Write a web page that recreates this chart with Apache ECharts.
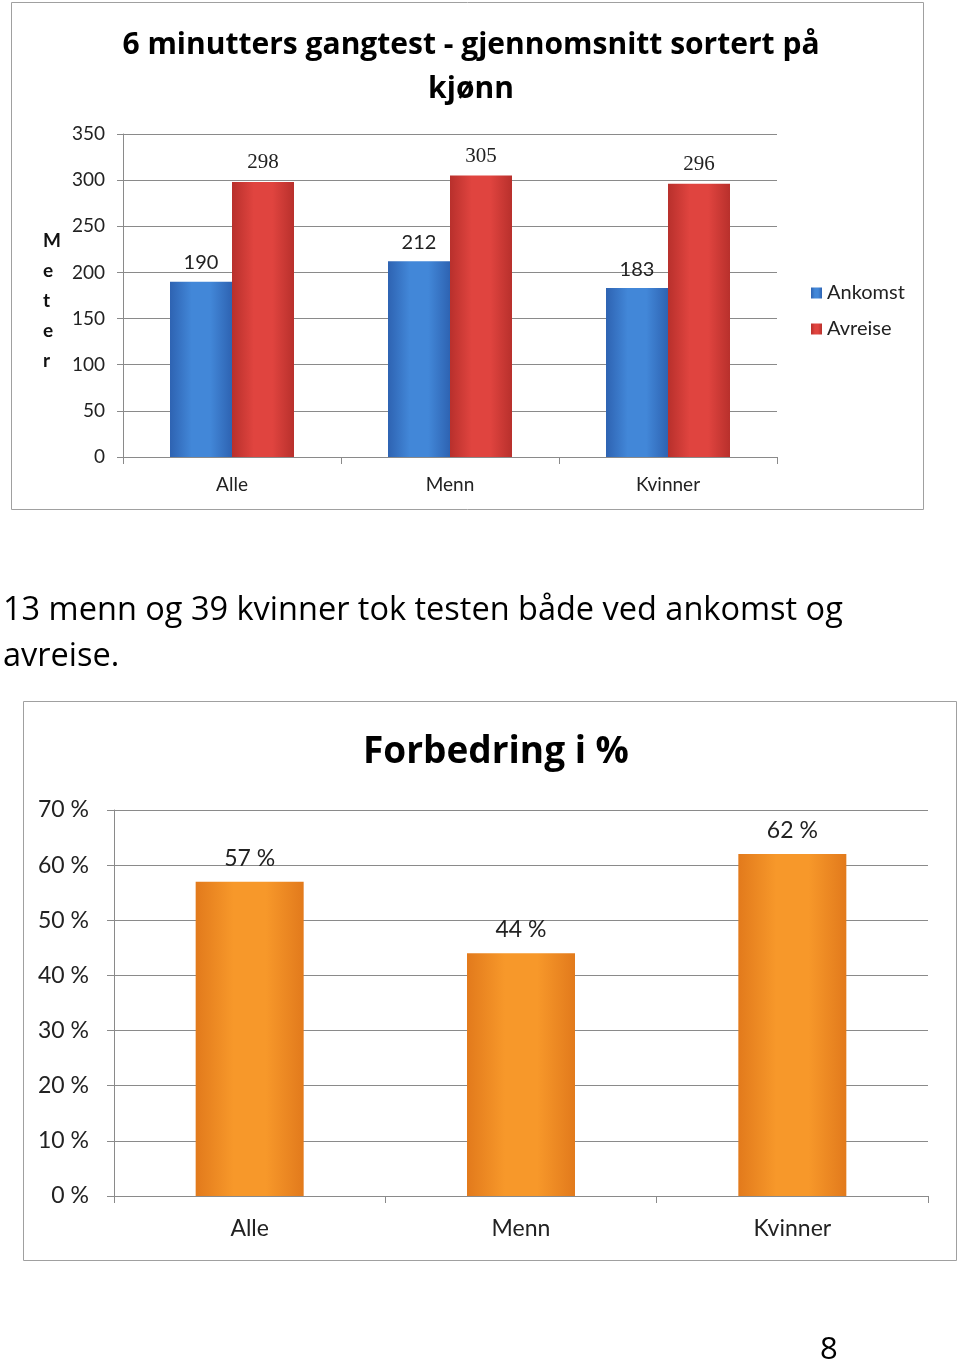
<!DOCTYPE html>
<html><head><meta charset="utf-8">
<script src="https://cdn.jsdelivr.net/npm/echarts@6/dist/echarts.min.js"></script>
<style>html,body{margin:0;padding:0;background:#fff}#c{width:960px;height:1362px}</style>
</head><body><div id="c"></div>
<script>
const categories = ['Alle', 'Menn', 'Kvinner'];
const ankomst = [190, 212, 183];
const avreise = [298, 305, 296];
const forbedring = [57, 44, 62];
const seriesNames = ['Ankomst', 'Avreise'];
const title1 = '6 minutters gangtest - gjennomsnitt sortert på\nkjønn';
const title2 = 'Forbedring i %';
const para = ['13 menn og 39 kvinner tok testen både ved ankomst og', 'avreise.'];
const pageNo = '8';

const F = 'Lato, "Open Sans", sans-serif';
const FT = '"Open Sans", sans-serif';
const grad = (a, b) => new echarts.graphic.LinearGradient(0, 0, 1, 0, [
  {offset: 0, color: b}, {offset: 0.35, color: a}, {offset: 0.65, color: a}, {offset: 1, color: b}]);
const blue = grad('#4287d8', '#2e63b2');
const red = grad('#e0443f', '#b8302c');
const orange = grad('#f7982a', '#e27a1c');
const gridLine = {lineStyle: {color: '#8a8a8a', width: 1}};
const axLine = {lineStyle: {color: '#8a8a8a', width: 1}};

const chart = echarts.init(document.getElementById('c'), null, {renderer: 'canvas'});
chart.setOption({
  animation: false,
  backgroundColor: '#fff',
  title: [
    {text: title1, left: 466, top: 18, textAlign: 'center',
     textStyle: {fontFamily: FT, fontWeight: 'bold', fontSize: 30, color: '#000', lineHeight: 44, align: 'center'}},
    {text: title2, left: 491, top: 729, textAlign: 'center',
     textStyle: {fontFamily: FT, fontWeight: 'bold', fontSize: 37, color: '#000'}}
  ],
  legend: {
    orient: 'vertical', left: 806, top: 278, itemGap: 16, itemWidth: 11, itemHeight: 11,
    icon: 'rect', data: seriesNames,
    textStyle: {fontFamily: F, fontSize: 20, color: '#222'}
  },
  grid: [
    {left: 123, top: 134, width: 654, height: 323},
    {left: 114, top: 810, width: 814, height: 386}
  ],
  xAxis: [
    {type: 'category', gridIndex: 0, data: categories, axisLine: axLine,
     axisTick: {show: true, length: 7, lineStyle: {color: '#8a8a8a'}},
     axisLabel: {fontFamily: F, fontSize: 19, color: '#222', margin: 18}},
    {type: 'category', gridIndex: 1, data: categories, axisLine: axLine,
     axisTick: {show: true, length: 7, lineStyle: {color: '#8a8a8a'}},
     axisLabel: {fontFamily: F, fontSize: 23, color: '#222', margin: 21}}
  ],
  yAxis: [
    {type: 'value', gridIndex: 0, min: 0, max: 350, interval: 50, axisLine: {show: true, ...axLine},
     axisTick: {show: true, length: 6, lineStyle: {color: '#8a8a8a'}},
     splitLine: gridLine, axisLabel: {fontFamily: F, fontSize: 19, color: '#222', margin: 18}},
    {type: 'value', gridIndex: 1, min: 0, max: 70, interval: 10, axisLine: {show: true, ...axLine},
     axisTick: {show: true, length: 7, lineStyle: {color: '#8a8a8a'}},
     splitLine: gridLine, axisLabel: {fontFamily: F, fontSize: 23, color: '#222', margin: 25, formatter: '{value} %'}}
  ],
  series: [
    {name: seriesNames[0], type: 'bar', xAxisIndex: 0, yAxisIndex: 0, data: ankomst, barWidth: 62, barGap: '0%',
     itemStyle: {color: blue},
     label: {show: true, position: 'top', distance: 9, fontFamily: F, fontSize: 20, color: '#222'}},
    {name: seriesNames[1], type: 'bar', xAxisIndex: 0, yAxisIndex: 0, data: avreise, barWidth: 62, barGap: '0%',
     itemStyle: {color: red},
     label: {show: true, position: 'top', distance: 9, fontFamily: '"Liberation Serif", serif', fontSize: 21, color: '#222'}},
    {name: 'Forbedring', type: 'bar', xAxisIndex: 1, yAxisIndex: 1, data: forbedring, barWidth: 108,
     itemStyle: {color: orange},
     label: {show: true, position: 'top', distance: 12, fontFamily: F, fontSize: 23, color: '#222', formatter: '{c} %'}}
  ],
  graphic: [
    {type: 'rect', shape: {x: 11.5, y: 2.5, width: 912, height: 507}, style: {fill: 'none', stroke: '#a0a0a0', lineWidth: 1}, silent: true, z: -1},
    {type: 'rect', shape: {x: 23.5, y: 701.5, width: 933, height: 559}, style: {fill: 'none', stroke: '#a0a0a0', lineWidth: 1}, silent: true, z: -1},
    {type: 'text', left: 43, top: 226, style: {text: 'M\ne\nt\ne\nr', fontFamily: F, fontWeight: 'bold', fontSize: 19, lineHeight: 30, fill: '#111', align: 'center'}},
    {type: 'text', left: 3, top: 588, style: {text: para.join('\n'), fontFamily: FT, fontSize: 32.5, lineHeight: 46, fill: '#000'}},
    {type: 'text', left: 820, top: 1335, style: {text: pageNo, fontFamily: FT, fontSize: 31, fill: '#000'}}
  ]
});
</script></body></html>
